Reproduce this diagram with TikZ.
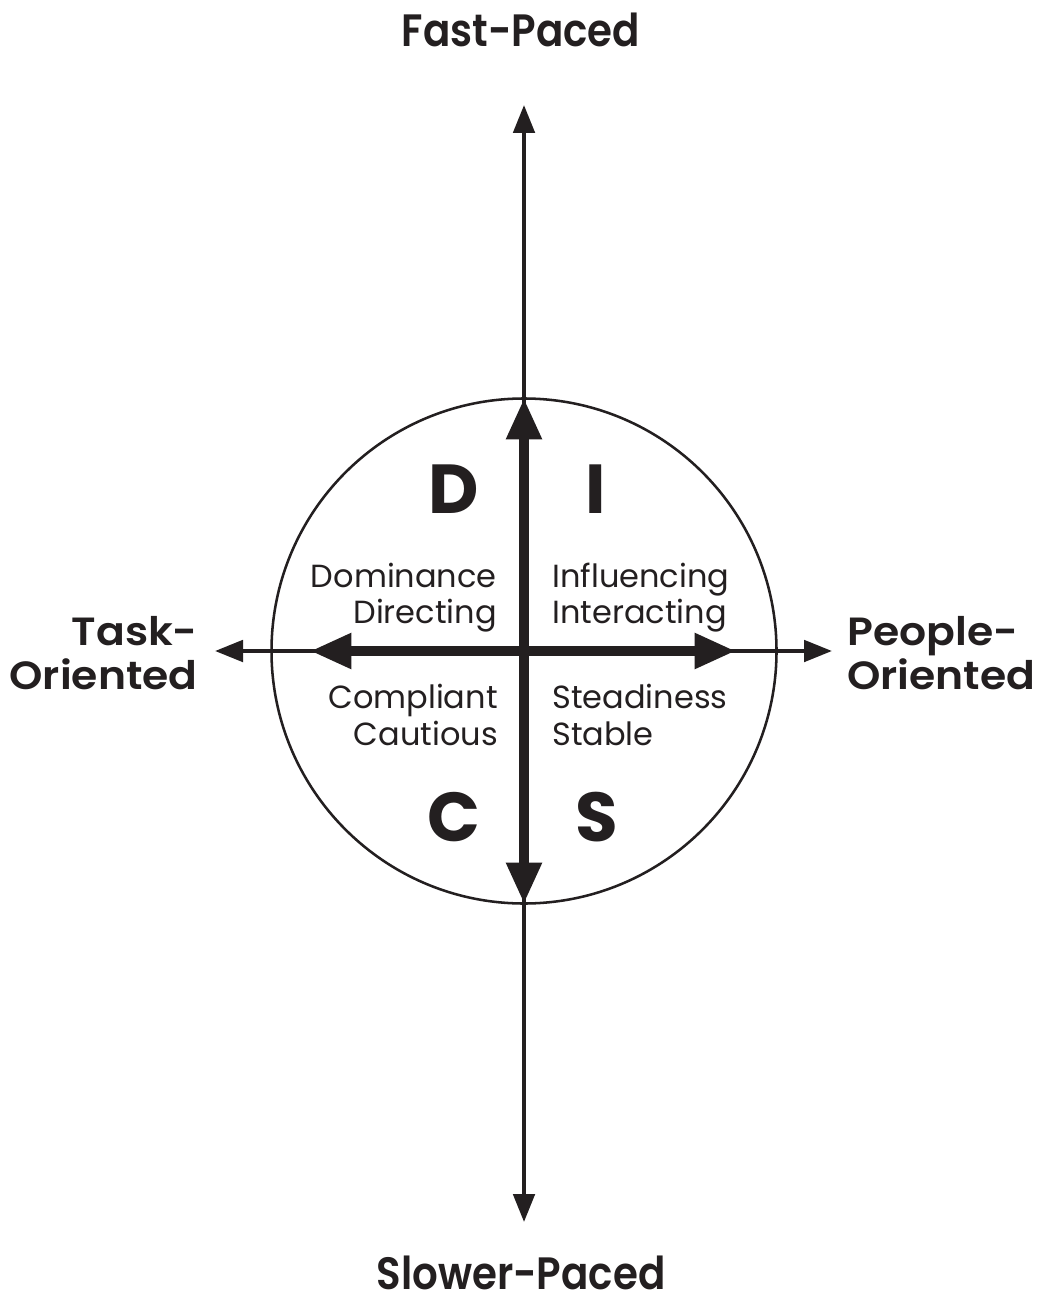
\documentclass[tikz,border=0pt]{standalone}
\usepackage{fontspec}
\setmainfont{Poppins}[Ligatures=NoCommon]
\newfontfamily\bigfont{Poppins SemiBold}[FakeStretch=0.89,Ligatures=NoCommon]
\newfontfamily\sidefont{Poppins SemiBold}[FakeStretch=1.08,Ligatures=NoCommon]
\usetikzlibrary{arrows.meta}
\definecolor{ink}{HTML}{231F20}
\begin{document}
\begin{tikzpicture}[x=0.75pt,y=-0.75pt,
  thinaxis/.style={draw=ink,line width=3pt,{Triangle[length=21pt,width=16pt]}-{Triangle[length=21pt,width=16pt]}},
  thickaxis/.style={draw=ink,line width=7.5pt,{Triangle[length=31pt,width=25pt]}-{Triangle[length=31pt,width=25pt]}},
  biglabel/.style={inner sep=0pt,text=ink,font=\bigfont\fontsize{34}{40}\selectfont},
  sidelabel/.style={inner sep=0pt,text=ink,font=\sidefont\fontsize{29.5}{34}\selectfont},
  letter/.style={inner sep=0pt,text=ink,font=\bfseries\fontsize{52}{60}\selectfont,anchor=base},
  trait/.style={inner sep=0pt,text=ink,font=\fontsize{24}{30}\selectfont}
]
\useasboundingbox (0,0) rectangle (1037,1301);
\fill[white] (0,0) rectangle (1037,1301);
% circle
\node[draw=ink,line width=1.9pt,circle,minimum size=505*0.75pt,inner sep=0pt] (ring) at (524,651) {};
% axis end points
\coordinate (c) at (524,651);
\coordinate (tT) at (524,105);
\coordinate (tB) at (524,1222);
\coordinate (tL) at (215,651);
\coordinate (tR) at (832,651);
\coordinate (kT) at (524,398);
\coordinate (kB) at (524,904);
\coordinate (kL) at (310,651);
\coordinate (kR) at (736,651);
\draw[thinaxis] (tB) -- (tT);
\draw[thinaxis] (tL) -- (tR);
\draw[thickaxis] (kB) -- (kT);
\draw[thickaxis] (kL) -- (kR);
% labels
\node[biglabel,anchor=base] (fast) at (521,47) {Fast-Paced};
\node[biglabel,anchor=base] (slow) at (521,1289) {Slower-Paced};
\node[sidelabel,anchor=base east] (task1) at (198,645) {Task-};
\node[sidelabel,anchor=base east] (task2) at (198,689) {Oriented};
\node[sidelabel,anchor=base west] (ppl1) at (847,645) {People-};
\node[sidelabel,anchor=base west] (ppl2) at (847,689) {Oriented};
% letters
\node[letter] (D) at (454,513) {D};
\node[letter] (I) at (596,513) {I};
\node[letter] (C) at (454,841) {C};
\node[letter] (S) at (597,841) {S};
% traits
\node[trait,anchor=base east] (dom) at (497,587) {Dominance};
\node[trait,anchor=base east] (dir) at (497,623) {Directing};
\node[trait,anchor=base west] (inf) at (552,587) {Influencing};
\node[trait,anchor=base west] (int) at (552,623) {Interacting};
\node[trait,anchor=base east] (com) at (498,708) {Compliant};
\node[trait,anchor=base east] (cau) at (498,745) {Cautious};
\node[trait,anchor=base west] (ste) at (552,708) {Steadiness};
\node[trait,anchor=base west] (sta) at (552,745) {Stable};
\end{tikzpicture}
\end{document}
